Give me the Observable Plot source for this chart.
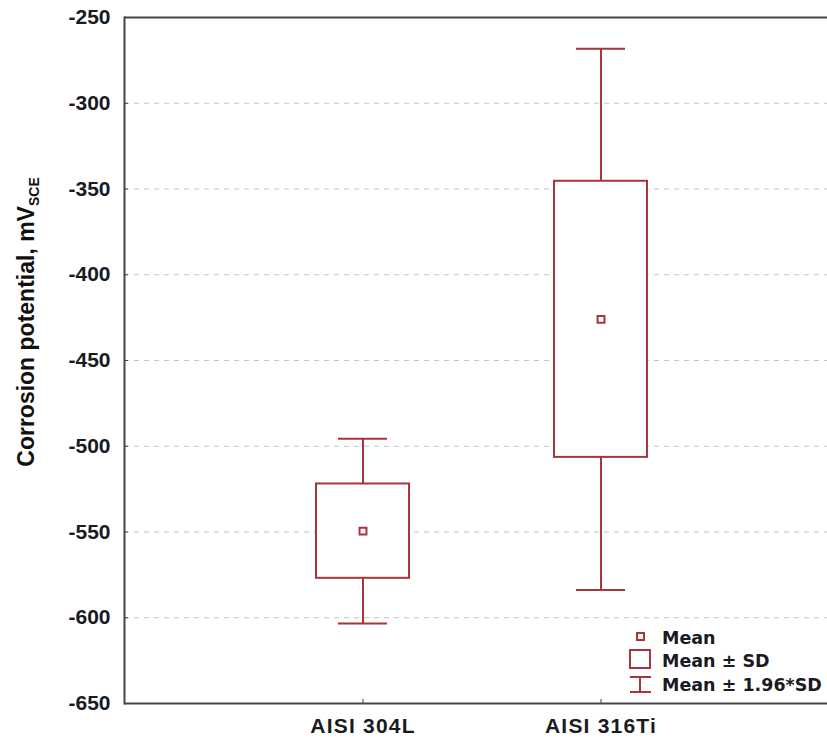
<!DOCTYPE html>
<html><head><meta charset="utf-8">
<script src="https://cdn.jsdelivr.net/npm/d3@7"></script>
<script src="https://cdn.jsdelivr.net/npm/@observablehq/plot@0.6"></script>
<style>body{margin:0;background:#fff} #chart{width:827px;height:738px}</style>
</head><body><div id="chart"></div>
<script>
const categories = ["AISI 304L", "AISI 316Ti"];
const means = [-549.5, -426];
const sds = [27.5, 80.5];
const yTicks = [-650, -600, -550, -500, -450, -400, -350, -300, -250];
const legendLabels = ["Mean", "Mean ± SD", "Mean ± 1.96*SD"];
const yLabel = "Corrosion potential, mV";
const yLabelSub = "SCE";

const data = categories.map((c, i) => ({
  cat: c, mean: means[i],
  lo1: means[i] - sds[i], hi1: means[i] + sds[i],
  lo2: means[i] - 1.96 * sds[i], hi2: means[i] + 1.96 * sds[i]
}));

const red = "#a8353b";
const frameColor = "#444";

const plot = Plot.plot({
  width: 827, height: 738,
  marginTop: 17, marginBottom: 35, marginLeft: 124, marginRight: 0,
  x: {type: "band", domain: categories, paddingInner: 0.61, paddingOuter: 0.78, align: 0.515, label: null},
  y: {domain: [-650, -250], label: null},
  style: {fontFamily: "'Liberation Sans', Arial, sans-serif", color: "#1a1a22", background: "#fff"},
  marks: [
    Plot.gridY(yTicks.slice(1, -1), {stroke: "#c4c4c4", strokeOpacity: 1, strokeDasharray: "5,5", strokeWidth: 1.2}),
    Plot.ruleX(data, {x: "cat", y1: "lo2", y2: "hi2", stroke: red, strokeWidth: 2}),
    Plot.barY(data, {x: "cat", y1: "lo1", y2: "hi1", fill: "white", stroke: red, strokeWidth: 2}),
    Plot.tickY(data, {x: "cat", y: "hi2", stroke: red, strokeWidth: 2, inset: 22}),
    Plot.tickY(data, {x: "cat", y: "lo2", stroke: red, strokeWidth: 2, inset: 22}),
    Plot.dot(data, {x: "cat", y: "mean", symbol: "square", r: 3.9, stroke: red, strokeWidth: 2, fill: "white"}),
    Plot.axisY(yTicks, {tickSize: -4, tickPadding: 18, fontSize: 21, fontWeight: "bold", stroke: frameColor, tickFormat: d => String(d)}),
    Plot.axisX({tickSize: -4, tickPadding: 19, fontSize: 21, fontWeight: "bold", stroke: frameColor}),
    Plot.ruleY([-650, -250], {stroke: frameColor, strokeWidth: 2}),
    Plot.frame({anchor: "left", stroke: frameColor, strokeWidth: 2})
  ]
});

document.getElementById("chart").appendChild(plot);
const svg = d3.select(plot);
svg.selectAll("g[aria-label='y-axis tick label'], g[aria-label='x-axis tick label']").attr("font-weight", "bold");
svg.selectAll("g[aria-label='y-axis tick label'] text, g[aria-label='x-axis tick label'] text").attr("font-weight", "bold");
svg.selectAll("g[aria-label='x-axis tick label'] text").attr("letter-spacing", "1.2px");

// y-axis title with subscript
const lab = svg.append("text")
  .attr("transform", "translate(34,322) rotate(-90)")
  .attr("text-anchor", "middle")
  .attr("font-size", 23).attr("font-weight", "bold").attr("fill", "#111");
lab.append("tspan").text(yLabel);
lab.append("tspan").attr("font-size", 14).attr("dy", 5).text(yLabelSub);

// legend
const lg = svg.append("g").attr("fill", "white").attr("stroke", red).attr("stroke-width", 2);
lg.append("rect").attr("x", 637).attr("y", 633).attr("width", 7).attr("height", 7);
lg.append("rect").attr("x", 630).attr("y", 650).attr("width", 20).attr("height", 18);
lg.append("line").attr("x1", 640).attr("x2", 640).attr("y1", 677).attr("y2", 692);
lg.append("line").attr("x1", 630).attr("x2", 651).attr("y1", 677).attr("y2", 677);
lg.append("line").attr("x1", 630).attr("x2", 651).attr("y1", 692).attr("y2", 692);
const ly = [644, 667, 691];
legendLabels.forEach((t, i) => {
  svg.append("text").attr("x", 662).attr("y", ly[i])
    .attr("text-anchor", "start")
    .attr("font-family", "'DejaVu Sans', sans-serif").attr("font-weight", "bold")
    .attr("font-size", 17.5).attr("fill", "#1a1a22").text(t);
});
</script>
</body></html>
